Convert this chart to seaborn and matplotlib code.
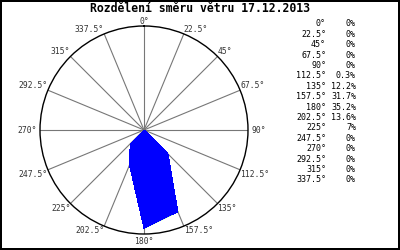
import numpy as np
import matplotlib
matplotlib.use("Agg")
import matplotlib.pyplot as plt
import seaborn as sns

directions = [0, 22.5, 45, 67.5, 90, 112.5, 135, 157.5, 180, 202.5, 225, 247.5, 270, 292.5, 315, 337.5]
dir_labels = ["0°", "22.5°", "45°", "67.5°", "90°", "112.5°", "135°", "157.5°", "180°",
              "202.5°", "225°", "247.5°", "270°", "292.5°", "315°", "337.5°"]
percent = [0, 0, 0, 0, 0, 0.3, 12.2, 31.7, 35.2, 13.6, 7, 0, 0, 0, 0, 0]
pct_labels = ["0%", "0%", "0%", "0%", "0%", "0.3%", "12.2%", "31.7%", "35.2%", "13.6%", "7%",
              "0%", "0%", "0%", "0%", "0%"]
title = "Rozdělení směru větru 17.12.2013"

sns.set_theme(style="white")
plt.rcParams['font.family'] = ['DejaVu Sans Mono']

fig = plt.figure(figsize=(4, 2.5), dpi=100, linewidth=1.5, edgecolor="black")
fig.patch.set_facecolor("white")
ax = fig.add_axes([0.10, 0.064, 0.52, 0.832], projection="polar")
ax.set_theta_zero_location("N")
ax.set_theta_direction(-1)
rmax = 37.3
ax.set_ylim(0, rmax)
ax.set_yticks([])
ax.set_xticks(np.deg2rad(directions))
ax.set_xticklabels([])
ax.grid(True, color="#777777", linewidth=0.8)
ax.yaxis.grid(False)
ax.spines["polar"].set_color("black")
ax.spines["polar"].set_linewidth(1.0)
ax.set_facecolor("white")

th = np.deg2rad(directions + [directions[0]])
rr = percent + [percent[0]]
ax.fill(th, rr, color="#0000ff", edgecolor="none", antialiased=False, zorder=3)
ax.plot(np.deg2rad([157.5, 180]), [31.7, 35.2], color="#00cc00", linewidth=0.8, zorder=2.5)

for d, lab in zip(directions, dir_labels):
    a = np.deg2rad(d)
    s, c = np.sin(a), np.cos(a)
    ha = "left" if s > 0.01 else ("right" if s < -0.01 else "center")
    va = "bottom" if c > 0.01 else ("top" if c < -0.01 else "center")
    if abs(s) < 0.01 and c > 0:
        r = rmax * 1.0
    elif abs(s) < 0.01 or abs(c) < 0.01:
        r = rmax * 1.03
    else:
        r = rmax
    ax.text(a, r, lab, ha=ha, va=va, fontsize=5.8, color="#333333", clip_on=False)

fig.text(0.5, 1 - 9 / 250, title, ha="center", va="center", fontsize=8.3, fontweight="bold", color="black")

y0 = 24
dy = 10.4
for i, (dl, pl) in enumerate(zip(dir_labels, pct_labels)):
    y = 1 - (y0 + i * dy) / 250
    fig.text(326 / 400, y, dl, ha="right", va="center", fontsize=6, color="black")
    fig.text(356 / 400, y, pl, ha="right", va="center", fontsize=6, color="black")

fig.savefig("out.png", dpi=100, edgecolor=fig.get_edgecolor())
